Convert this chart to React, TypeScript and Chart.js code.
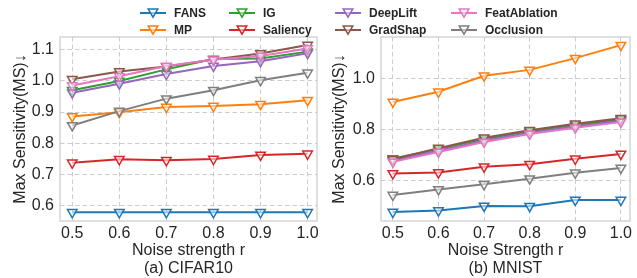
import React, { useEffect, useRef } from "react";
import { Chart, registerables } from "chart.js";

Chart.register(...registerables);

// ---------- data ----------
const noiseStrength = [0.5, 0.6, 0.7, 0.8, 0.9, 1.0];
const methods = ["FANS", "MP", "IG", "Saliency", "DeepLift", "GradShap", "FeatAblation", "Occlusion"];
const methodColors = ["#1f77b4", "#ff7f0e", "#2ca02c", "#d62728", "#9467bd", "#8c564b", "#e377c2", "#7f7f7f"];

// CIFAR10
const cifarFANS = [0.578, 0.578, 0.578, 0.578, 0.578, 0.578];
const cifarMP = [0.886, 0.899, 0.916, 0.919, 0.925, 0.938];
const cifarIG = [0.970, 1.000, 1.037, 1.070, 1.072, 1.094];
const cifarSaliency = [0.737, 0.748, 0.745, 0.749, 0.762, 0.766];
const cifarDeepLift = [0.962, 0.991, 1.022, 1.048, 1.063, 1.089];
const cifarGradShap = [1.005, 1.030, 1.046, 1.069, 1.088, 1.115];
const cifarFeatAblation = [0.985, 1.015, 1.048, 1.068, 1.080, 1.104];
const cifarOcclusion = [0.857, 0.903, 0.943, 0.970, 1.002, 1.026];

// MNIST
const mnistFANS = [0.475, 0.481, 0.499, 0.498, 0.522, 0.522];
const mnistMP = [0.907, 0.947, 1.010, 1.033, 1.079, 1.130];
const mnistIG = [0.685, 0.722, 0.762, 0.792, 0.817, 0.838];
const mnistSaliency = [0.626, 0.630, 0.653, 0.663, 0.684, 0.703];
const mnistDeepLift = [0.677, 0.716, 0.755, 0.786, 0.811, 0.833];
const mnistGradShap = [0.682, 0.726, 0.767, 0.796, 0.822, 0.843];
const mnistFeatAblation = [0.672, 0.711, 0.750, 0.781, 0.806, 0.828];
const mnistOcclusion = [0.542, 0.564, 0.584, 0.606, 0.629, 0.648];

const cifarSeries = [cifarFANS, cifarMP, cifarIG, cifarSaliency, cifarDeepLift, cifarGradShap, cifarFeatAblation, cifarOcclusion];
const mnistSeries = [mnistFANS, mnistMP, mnistIG, mnistSaliency, mnistDeepLift, mnistGradShap, mnistFeatAblation, mnistOcclusion];

// legend layout: rows of method indices
const legendRows = [
  [0, 2, 4, 6],
  [1, 3, 5, 7],
];
const yTitle = "Max Sensitivity(MS)↓";

const FONT = "'Liberation Sans', Arial, sans-serif";
const TEXT = "#262626";
const GRID = "#cccccc";

const framePlugin = {
  id: "frame",
  beforeDatasetsDraw(chart: any) {
    const { ctx, chartArea } = chart;
    const { left, top, right, bottom } = chartArea;
    ctx.save();
    ctx.strokeStyle = GRID;
    ctx.lineWidth = 1.25;
    ctx.strokeRect(left, top, right - left, bottom - top);
    ctx.restore();
  },
};

function makeConfig(
  series: number[][],
  yMin: number,
  yMax: number,
  yStep: number,
  xTitle: string,
  caption: string,
  yWidth: number,
  padRight: number,
  yTitlePad: number
): any {
  return {
    type: "line",
    data: {
      datasets: series.map((vals, i) => ({
        label: methods[i],
        data: vals.map((v, j) => ({ x: noiseStrength[j], y: v })),
        borderColor: methodColors[i],
        backgroundColor: methodColors[i],
        borderWidth: 2,
        pointStyle: "triangle",
        rotation: 180,
        pointRadius: 5.5,
        pointBorderWidth: 1.5,
        pointBorderColor: methodColors[i],
        pointBackgroundColor: "rgba(255,255,255,0.55)",
        tension: 0,
        order: series.length - i,
      })),
    },
    options: {
      animation: false,
      responsive: false,
      maintainAspectRatio: false,
      layout: { padding: { top: 37, bottom: 0, left: 0, right: padRight } },
      plugins: {
        legend: { display: false },
        tooltip: { enabled: false },
      },
      scales: {
        x: {
          type: "linear",
          min: 0.474,
          max: 1.02,
          afterFit: (s: any) => {
            s.height = 57;
          },
          grid: { color: GRID, lineWidth: 1, drawTicks: false },
          border: { display: false, dash: [4.5, 3] },
          ticks: {
            stepSize: 0.1,
            includeBounds: false,
            padding: 3,
            color: TEXT,
            font: { family: FONT, size: 16 },
            callback: (v: any) => Number(v).toFixed(1),
          },
          title: {
            display: true,
            text: [xTitle, caption],
            color: TEXT,
            font: { family: FONT, size: 16, lineHeight: 1.125 },
            padding: { top: 0, bottom: 0 },
          },
        },
        y: {
          type: "linear",
          min: yMin,
          max: yMax,
          afterFit: (s: any) => {
            s.width = yWidth;
          },
          grid: { color: GRID, lineWidth: 1, drawTicks: false },
          border: { display: false, dash: [4.5, 3] },
          ticks: {
            stepSize: yStep,
            includeBounds: false,
            padding: 6,
            color: TEXT,
            font: { family: FONT, size: 16 },
            callback: (v: any) => Number(v).toFixed(1),
          },
          title: {
            display: true,
            text: yTitle,
            color: TEXT,
            font: { family: FONT, size: 16, lineHeight: 1.2 },
            padding: { top: yTitlePad, bottom: 0 },
          },
        },
      },
    },
    plugins: [framePlugin],
  };
}

function Panel(props: { config: any; left: number; width: number }) {
  const ref = useRef<HTMLCanvasElement | null>(null);
  useEffect(() => {
    if (!ref.current) return;
    const chart = new Chart(ref.current, props.config);
    return () => chart.destroy();
  }, []);
  return (
    <canvas
      ref={ref}
      width={props.width}
      height={278}
      style={{ position: "absolute", left: props.left, top: 0, width: props.width, height: 278 }}
    />
  );
}

function LegendIcon({ color }: { color: string }) {
  return (
    <svg width={26} height={12} style={{ position: "absolute", left: 0, top: -6 }}>
      <line x1={0} y1={6} x2={26} y2={6} stroke={color} strokeWidth={2} />
      <polygon
        points="8.2,2 17.8,2 13,10.2"
        fill="rgba(255,255,255,0.55)"
        stroke={color}
        strokeWidth={1.5}
      />
    </svg>
  );
}

const legendTextX = [174, 263, 369, 485];
const legendRowY = [13, 30];

export default function App() {
  const leftCfg = makeConfig(cifarSeries, 0.55, 1.141, 0.1, "Noise strength r", "(a) CIFAR10", 60, 13, 11);
  const rightCfg = makeConfig(mnistSeries, 0.44, 1.162, 0.2, "Noise Strength r", "(b) MNIST", 61, 4, 10);
  return (
    <div
      style={{
        position: "fixed",
        left: 0,
        top: 0,
        width: 637,
        height: 278,
        background: "#ffffff",
        overflow: "hidden",
        fontFamily: FONT,
      }}
    >
      <Panel config={leftCfg} left={0} width={330} />
      <Panel config={rightCfg} left={320} width={317} />
      {legendRows.map((row, r) =>
        row.map((mi, c) => (
          <div
            key={mi}
            style={{
              position: "absolute",
              left: legendTextX[c] - 34,
              top: legendRowY[r],
              height: 0,
            }}
          >
            <LegendIcon color={methodColors[mi]} />
            <span
              style={{
                position: "absolute",
                left: 34,
                top: -8,
                fontSize: 12,
                lineHeight: "16px",
                fontWeight: "bold",
                color: TEXT,
                whiteSpace: "nowrap",
              }}
            >
              {methods[mi]}
            </span>
          </div>
        ))
      )}
    </div>
  );
}
